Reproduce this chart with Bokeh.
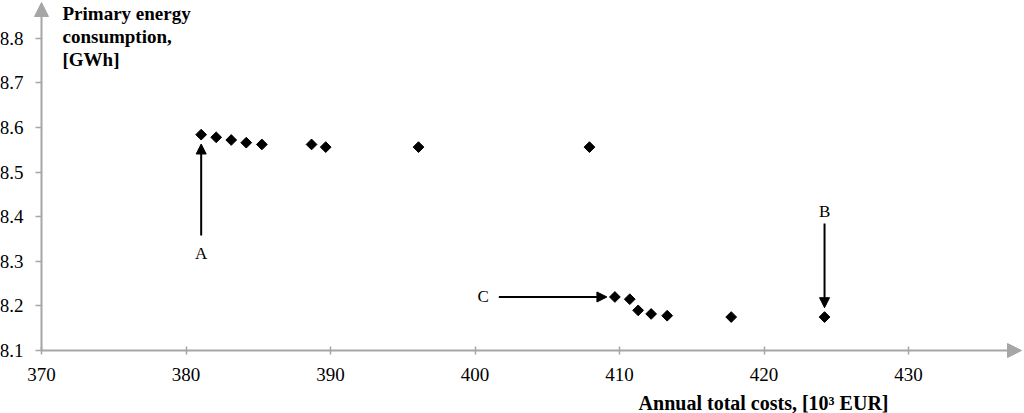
import numpy as np
from bokeh.plotting import figure
from bokeh.models import (Range1d, FixedTicker, NumeralTickFormatter, Arrow,
                          NormalHead, Label)
from bokeh.embed import file_html
from bokeh.resources import INLINE

# ---- data ----
annual_cost = [381.05, 382.09, 383.13, 384.17, 385.25, 388.69, 389.67, 396.09,
               407.92, 409.68, 410.71, 411.29, 412.19, 413.30, 417.73, 424.19]
primary_energy = [8.584, 8.578, 8.572, 8.566, 8.562, 8.562, 8.556, 8.556,
                  8.556, 8.220, 8.215, 8.190, 8.182, 8.178, 8.175, 8.175]
x_ticks = [370, 380, 390, 400, 410, 420, 430]
y_ticks = [8.1, 8.2, 8.3, 8.4, 8.5, 8.6, 8.7, 8.8]
x_title = "Annual total costs, [10\u00b3 EUR]"
y_title = ["Primary energy", "consumption,", "[GWh]"]
point_labels = ["A", "B", "C"]

SERIF = "Liberation Serif"
AXIS_GREY = "#a6a6a6"

W, H = 1024, 413
PXX = 14.45      # pixels per x unit
PXY = 446.0      # pixels per y unit
X_ORIG, Y_ORIG = 370, 8.1
X0 = X_ORIG - 41 / PXX
X1 = X_ORIG + (W - 41) / PXX
Y0 = Y_ORIG - (H - 350) / PXY
Y1 = Y_ORIG + 350 / PXY

p = figure(width=W, height=H, output_backend="svg", toolbar_location=None,
           x_range=Range1d(X0, X1), y_range=Range1d(Y0, Y1),
           min_border_left=0, min_border_right=0, min_border_top=0,
           min_border_bottom=0)
p.outline_line_color = None
p.grid.grid_line_color = None
p.background_fill_color = "white"

for ax in (p.xaxis[0], p.yaxis[0]):
    ax.axis_line_color = None
    ax.major_tick_line_color = AXIS_GREY
    ax.major_tick_line_width = 1.5
    ax.minor_tick_line_color = None
    ax.major_label_text_font = SERIF
    ax.major_label_text_font_size = "19px"
    ax.major_label_text_color = "black"

p.xaxis.fixed_location = Y_ORIG
p.xaxis.ticker = FixedTicker(ticks=x_ticks)
p.xaxis.major_tick_in = 4
p.xaxis.major_tick_out = 4
p.xaxis.major_label_standoff = 13
p.xaxis.formatter = NumeralTickFormatter(format="0")

p.yaxis.fixed_location = X_ORIG
p.yaxis.ticker = FixedTicker(ticks=y_ticks)
p.yaxis.major_tick_in = 0
p.yaxis.major_tick_out = 6
p.yaxis.major_label_standoff = 12
p.yaxis.formatter = NumeralTickFormatter(format="0.0")

# axis lines with arrow heads
p.add_layout(Arrow(x_start=X_ORIG, y_start=Y_ORIG, x_end=X_ORIG + (1021 - 41) / PXX,
                   y_end=Y_ORIG, line_color=AXIS_GREY, line_width=2,
                   end=NormalHead(size=14, fill_color=AXIS_GREY, line_color=AXIS_GREY)))
p.add_layout(Arrow(x_start=X_ORIG, y_start=Y_ORIG, x_end=X_ORIG,
                   y_end=Y_ORIG + (350 - 2) / PXY, line_color=AXIS_GREY, line_width=2,
                   end=NormalHead(size=14, fill_color=AXIS_GREY, line_color=AXIS_GREY)))

# data points (diamonds)
p.scatter(annual_cost, primary_energy, marker="square", angle=np.pi / 4,
          size=7.6, fill_color="black", line_color="black")

# annotation arrows A, B, C
def ann_arrow(xs, ys, xe, ye):
    p.add_layout(Arrow(x_start=xs, y_start=ys, x_end=xe, y_end=ye,
                       line_color="black", line_width=2,
                       end=NormalHead(size=10, fill_color="black", line_color="black")))

def ann_label(x, y, t):
    p.add_layout(Label(x=x, y=y, text=t, text_align="center", text_baseline="middle",
                       text_font=SERIF, text_font_size="17px", text_color="black"))

ax_, ay_ = annual_cost[0], primary_energy[0]
ann_arrow(ax_, 8.358, ax_, ay_ - 0.021)
ann_label(ax_, 8.317, point_labels[0])

bx_, by_ = annual_cost[-1], primary_energy[-1]
ann_arrow(bx_, 8.385, bx_, by_ + 0.021)
ann_label(bx_, 8.412, point_labels[1])

cx_, cy_ = annual_cost[9], primary_energy[9]
ann_arrow(401.65, cy_, cx_ - 0.55, cy_)
ann_label(400.57, cy_, point_labels[2])

# axis titles
for i, line in enumerate(y_title):
    p.add_layout(Label(x=X_ORIG + 21 / PXX, y=Y_ORIG + (350 - 13 - 23 * i) / PXY,
                       text=line, text_align="left", text_baseline="alphabetic",
                       text_font=SERIF, text_font_size="19px",
                       text_font_style="bold", text_color="black"))
p.add_layout(Label(x=X_ORIG + (888 - 41) / PXX, y=Y_ORIG - (402 - 350) / PXY,
                   text=x_title, text_align="right", text_baseline="alphabetic",
                   text_font=SERIF, text_font_size="20px", text_font_style="bold",
                   text_color="black"))

open("out.html", "w").write(file_html(p, INLINE))
